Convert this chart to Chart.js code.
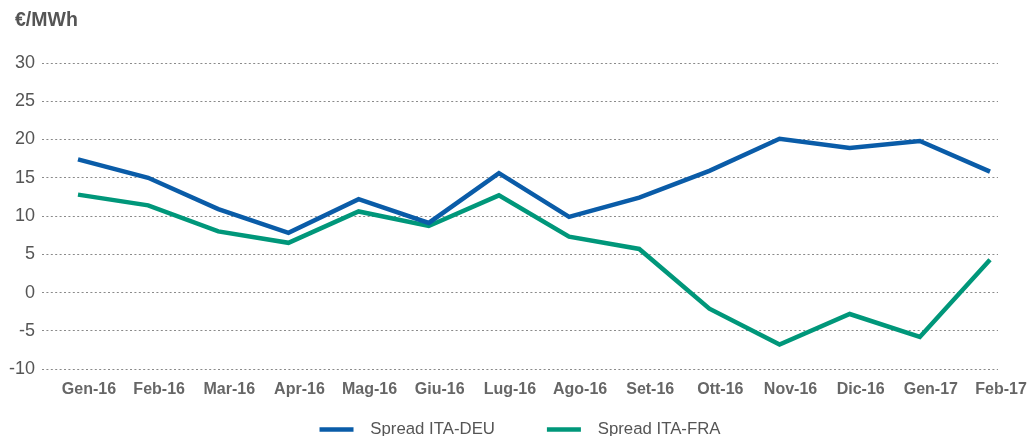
<!DOCTYPE html>
<html>
<head>
<meta charset="utf-8">
<script src="https://cdn.jsdelivr.net/npm/chart.js@4/dist/chart.umd.min.js"></script>
<style>
  html, body { margin: 0; padding: 0; background: #fff; overflow: hidden; }
  #wrap { position: relative; width: 1030px; height: 448px; }
</style>
</head>
<body>
<div id="wrap"><canvas id="spreadChart"></canvas></div>
<script>
const months = ['Gen-16', 'Feb-16', 'Mar-16', 'Apr-16', 'Mag-16', 'Giu-16', 'Lug-16',
                'Ago-16', 'Set-16', 'Ott-16', 'Nov-16', 'Dic-16', 'Gen-17', 'Feb-17'];
const spreadDeu = [17.4, 15.0, 10.9, 7.8, 12.2, 9.1, 15.6, 9.9, 12.4, 15.9, 20.1, 18.9, 19.8, 15.8];
const spreadFra = [12.8, 11.4, 8.0, 6.5, 10.6, 8.7, 12.7, 7.3, 5.7, -2.1, -6.8, -2.8, -5.8, 4.3];
const yTicks = [-10, -5, 0, 5, 10, 15, 20, 25, 30];
const unitLabel = '€/MWh';

(function () {
    Chart.defaults.font.family = '"Liberation Sans", Arial, Helvetica, sans-serif';

    const toPoints = arr => arr.map((v, i) => ({ x: i, y: v }));

    const unitTitle = {
        id: 'unitTitle',
        afterDraw(chart) {
            const ctx = chart.ctx;
            ctx.save();
            ctx.font = 'bold 19.5px "Liberation Sans", Arial, sans-serif';
            ctx.fillStyle = '#555';
            ctx.textBaseline = 'middle';
            ctx.fillText(unitLabel, 15, 21);
            ctx.restore();
        }
    };

    new Chart(document.getElementById('spreadChart'), {
        type: 'line',
        data: {
            datasets: [
                { label: 'Spread ITA-DEU', data: toPoints(spreadDeu), borderColor: '#0a5ca8', backgroundColor: '#0a5ca8', borderWidth: 4.5, pointRadius: 0, tension: 0, fill: false },
                { label: 'Spread ITA-FRA', data: toPoints(spreadFra), borderColor: '#00977a', backgroundColor: '#00977a', borderWidth: 4.5, pointRadius: 0, tension: 0, fill: false }
            ]
        },
        options: {
            responsive: true,
            maintainAspectRatio: false,
            animation: false,
            layout: { padding: { top: 63, left: 0, right: 32, bottom: 0 } },
            plugins: {
                tooltip: { enabled: false },
                legend: {
                    position: 'bottom',
                    fullSize: false,
                    labels: {
                        boxWidth: 34,
                        boxHeight: 4.5,
                        padding: 10,
                        color: '#555',
                        font: { size: 16.8 },
                        // en spaces widen the gap after the swatch and between the two items
                        generateLabels: chart => Chart.defaults.plugins.legend.labels.generateLabels(chart)
                            .map((l, i) => ({ ...l, text: '\u2002' + l.text + (i === 0 ? '\u2002'.repeat(5) : ''), lineWidth: 0 }))
                    }
                }
            },
            scales: {
                x: {
                    type: 'linear',
                    min: -0.513,
                    max: 13.114,
                    grid: { display: false, drawTicks: false },
                    border: { display: false },
                    afterBuildTicks: s => { s.ticks = months.map((_, i) => ({ value: i })); },
                    afterFit: s => { s.height = 42.1; },
                    ticks: {
                        autoSkip: false,
                        maxRotation: 0,
                        padding: 11,
                        labelOffset: 11,
                        color: '#666',
                        font: { size: 16, weight: 'bold' },
                        callback: v => months[v]
                    }
                },
                y: {
                    min: -10,
                    max: 30,
                    afterBuildTicks: s => { s.ticks = yTicks.map(v => ({ value: v })); },
                    afterFit: s => { s.width = 42; },
                    grid: { color: '#8a8a8a', lineWidth: 1, drawTicks: false },
                    border: { display: false, dash: [2, 2.4] },
                    ticks: {
                        padding: 7,
                        color: '#555',
                        font: { size: 18 }
                    }
                }
            }
        },
        plugins: [unitTitle]
    });
})();
</script>
</body>
</html>
